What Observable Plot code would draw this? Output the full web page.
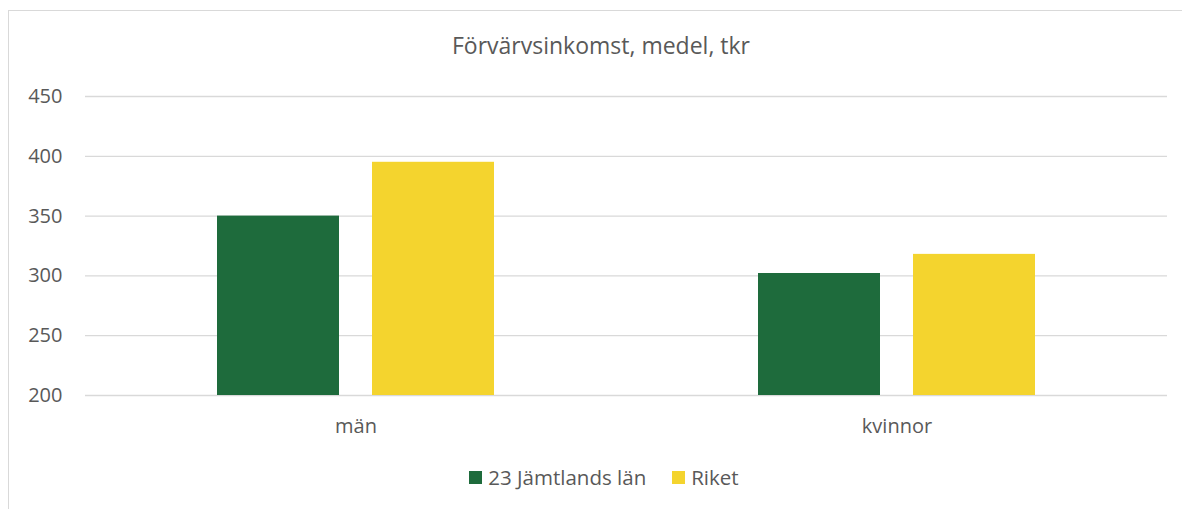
<!DOCTYPE html>
<html>
<head>
<meta charset="utf-8">
<script src="https://cdn.jsdelivr.net/npm/d3@7"></script>
<script src="https://cdn.jsdelivr.net/npm/@observablehq/plot@0.6"></script>
<style>
  html, body { margin: 0; padding: 0; background: #fff; overflow: hidden; width: 1182px; height: 509px; }
  body { position: relative; font-family: "Open Sans", sans-serif; color: #595959; }
  #frame { position: absolute; left: 8px; top: 10px; width: 1200px; height: 600px; border: 1px solid #d9d9d9; box-sizing: border-box; }
  #title { position: absolute; left: 0; top: 32px; width: 1202px; text-align: center; font-size: 23px; line-height: 26px; }
  #chart { position: absolute; left: 0; top: 70px; }
  #legend { position: absolute; left: 0; top: 464px; width: 1208px; display: flex; justify-content: center; font-size: 20.5px; line-height: 26px; }
  .item { display: flex; align-items: center; margin: 0 13px; }
  .sw { width: 13px; height: 13px; margin-right: 6px; }
</style>
</head>
<body>
<div id="frame"></div>
<div id="title"></div>
<div id="chart"></div>
<div id="legend"></div>
<script>
const titleText = "Förvärvsinkomst, medel, tkr";
const categories = ["män", "kvinnor"];
const series = ["23 Jämtlands län", "Riket"];
const jamtlandValues = [350, 302];
const riketValues = [395, 318];
const seriesColors = ["#1e6b3c", "#f4d42e"];
const yTicks = [200, 250, 300, 350, 400, 450];
const yMin = 200;

const data = [];
categories.forEach((c, i) => {
  data.push({category: c, series: series[0], value: jamtlandValues[i]});
  data.push({category: c, series: series[1], value: riketValues[i]});
});

document.getElementById("title").textContent = titleText;

const chart = Plot.plot({
  width: 1182,
  height: 375,
  marginLeft: 84,
  marginRight: 15,
  marginTop: 26,
  marginBottom: 50,
  style: {fontFamily: "Open Sans", fontSize: "20px", color: "#595959", background: "transparent"},
  fx: {domain: categories, paddingInner: 0, paddingOuter: 0, label: null},
  x: {domain: series, paddingInner: 0.214, paddingOuter: 0.85, axis: null},
  y: {domain: [yMin, 450], label: null},
  color: {domain: series, range: seriesColors},
  marks: [
    Plot.gridY(yTicks, {stroke: "#d9d9d9", strokeOpacity: 1, strokeWidth: 1.3}),
    Plot.barY(data, {fx: "category", x: "series", y1: () => yMin, y2: "value", fill: "series"}),
    Plot.axisY(yTicks, {tickSize: 0, tickPadding: 23, label: null, fill: "#595959"}),
    Plot.axisFx({anchor: "bottom", tickSize: 0, tickPadding: 23, label: null, fill: "#595959"})
  ]
});
document.getElementById("chart").appendChild(chart);

const legend = document.getElementById("legend");
series.forEach((s, i) => {
  const item = document.createElement("div");
  item.className = "item";
  const sw = document.createElement("div");
  sw.className = "sw";
  sw.style.background = seriesColors[i];
  const t = document.createElement("span");
  t.textContent = s;
  item.appendChild(sw);
  item.appendChild(t);
  legend.appendChild(item);
});
</script>
</body>
</html>
